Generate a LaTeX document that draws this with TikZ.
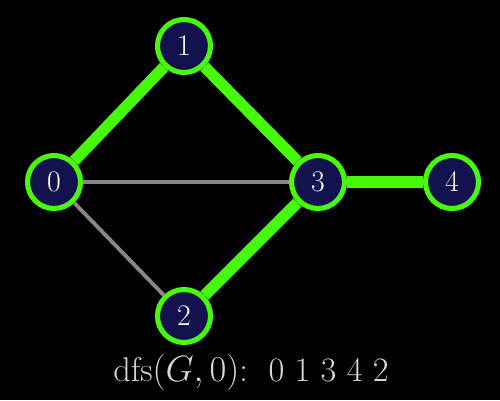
\documentclass[tikz,border=0pt]{standalone}
\usepackage{amsmath}
\usepackage{tikz}
\tikzset{>=latex}
\usetikzlibrary{calc,positioning,backgrounds}
\definecolor{vnavy}{RGB}{18,18,78}
\definecolor{vgreen}{RGB}{70,250,10}
\definecolor{vgray}{RGB}{135,135,135}
\definecolor{vtext}{RGB}{215,215,215}
\tikzset{
  vert/.style={circle, draw=vgreen, fill=vnavy, line width=2.9pt, minimum size=1.06cm, inner sep=0pt, text=white, font=\fontsize{17}{20}\selectfont},
  treeedge/.style={vgreen, line width=6.5pt},
  backedge/.style={vgray, line width=2.2pt}
}

\begin{document}
\begin{tikzpicture}
                        \useasboundingbox (0,0) rectangle (10,8);

                        % vertices
                        \foreach \v/\x/\y in {1/3.68/7.08, 0/1.08/4.36, 3/6.36/4.36, 4/9.04/4.36, 2/3.68/1.68}
                        \node[vert] (v\v) at (\x,\y) {\v};

                        \begin{scope}[on background layer]
                        \fill[black] (0,0) rectangle (10,8);
                        \draw[backedge] (v0) -- (v3);
                        \draw[backedge] (v0) -- (v2);
                        \draw[treeedge] (v0) -- (v1);
                        \draw[treeedge] (v1) -- (v3);
                        \draw[treeedge] (v3) -- (v4);
                        \draw[treeedge] (v3) -- (v2);
                        \end{scope}

                        \node[text=vtext, font=\fontsize{19.5}{23}\selectfont] (caption) at (5.02,0.56) {dfs$(G,0)$:\ \ 0\ 1\ 3\ 4\ 2};
\end{tikzpicture}
\end{document}
